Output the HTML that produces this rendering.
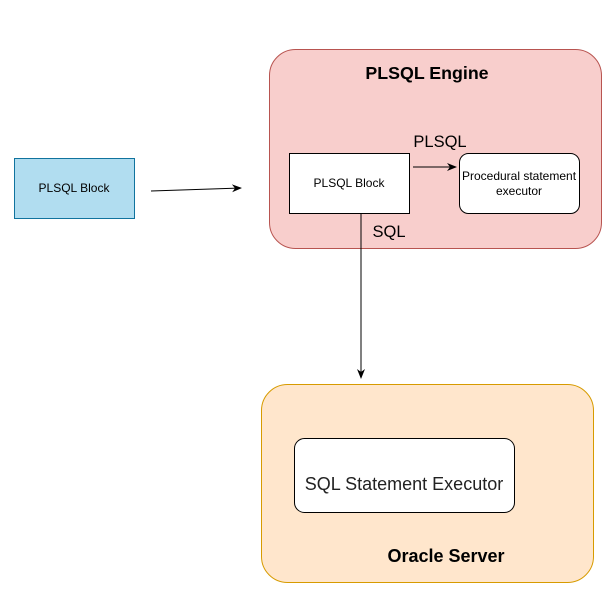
<!DOCTYPE html>
<html><head><style>body{margin:0;background:#fff}svg{display:block}text{font-family:"Liberation Sans",Arial,sans-serif}</style></head>
<body>
<svg width="613" height="592" viewBox="0 0 613 592" xmlns="http://www.w3.org/2000/svg">
<defs><marker id="a" markerWidth="10" markerHeight="10" refX="9" refY="5" orient="auto" markerUnits="userSpaceOnUse"><path d="M0,1 L10,5 L0,9 L3,5 z" fill="#000"/></marker></defs>
<rect x="269.5" y="49.5" width="332" height="199" rx="26" fill="#f8cecc" stroke="#b85450"/>
<text x="427" y="79" font-size="17.8" font-weight="bold" text-anchor="middle">PLSQL Engine</text>
<rect x="14.5" y="158.5" width="120" height="60" fill="#b1ddf0" stroke="#10739e"/>
<text x="74" y="192" font-size="12" text-anchor="middle">PLSQL Block</text>
<line x1="151" y1="191" x2="241" y2="188" stroke="#000" marker-end="url(#a)"/>
<rect x="289.5" y="153.5" width="120" height="60" fill="#fff" stroke="#000"/>
<text x="349" y="187" font-size="12" text-anchor="middle">PLSQL Block</text>
<rect x="459.5" y="153.5" width="120" height="60" rx="9" fill="#fff" stroke="#000"/>
<text x="519" y="180" font-size="12" text-anchor="middle">Procedural statement</text>
<text x="519" y="195" font-size="12" text-anchor="middle">executor</text>
<line x1="413" y1="167" x2="456" y2="167" stroke="#000" marker-end="url(#a)"/>
<text x="440" y="147" font-size="16.5" text-anchor="middle">PLSQL</text>
<text x="389" y="237" font-size="16.5" text-anchor="middle">SQL</text>
<line x1="361" y1="213" x2="361" y2="378" stroke="#000" marker-end="url(#a)"/>
<rect x="261.5" y="384.5" width="332" height="198" rx="26" fill="#ffe6cc" stroke="#d79b00"/>
<rect x="294.5" y="438.5" width="220" height="74" rx="10" fill="#fff" stroke="#000"/>
<text x="404" y="490" font-size="18" text-anchor="middle" fill="#222">SQL Statement Executor</text>
<text x="446" y="562" font-size="18" font-weight="bold" text-anchor="middle">Oracle Server</text>
</svg>
</body></html>
